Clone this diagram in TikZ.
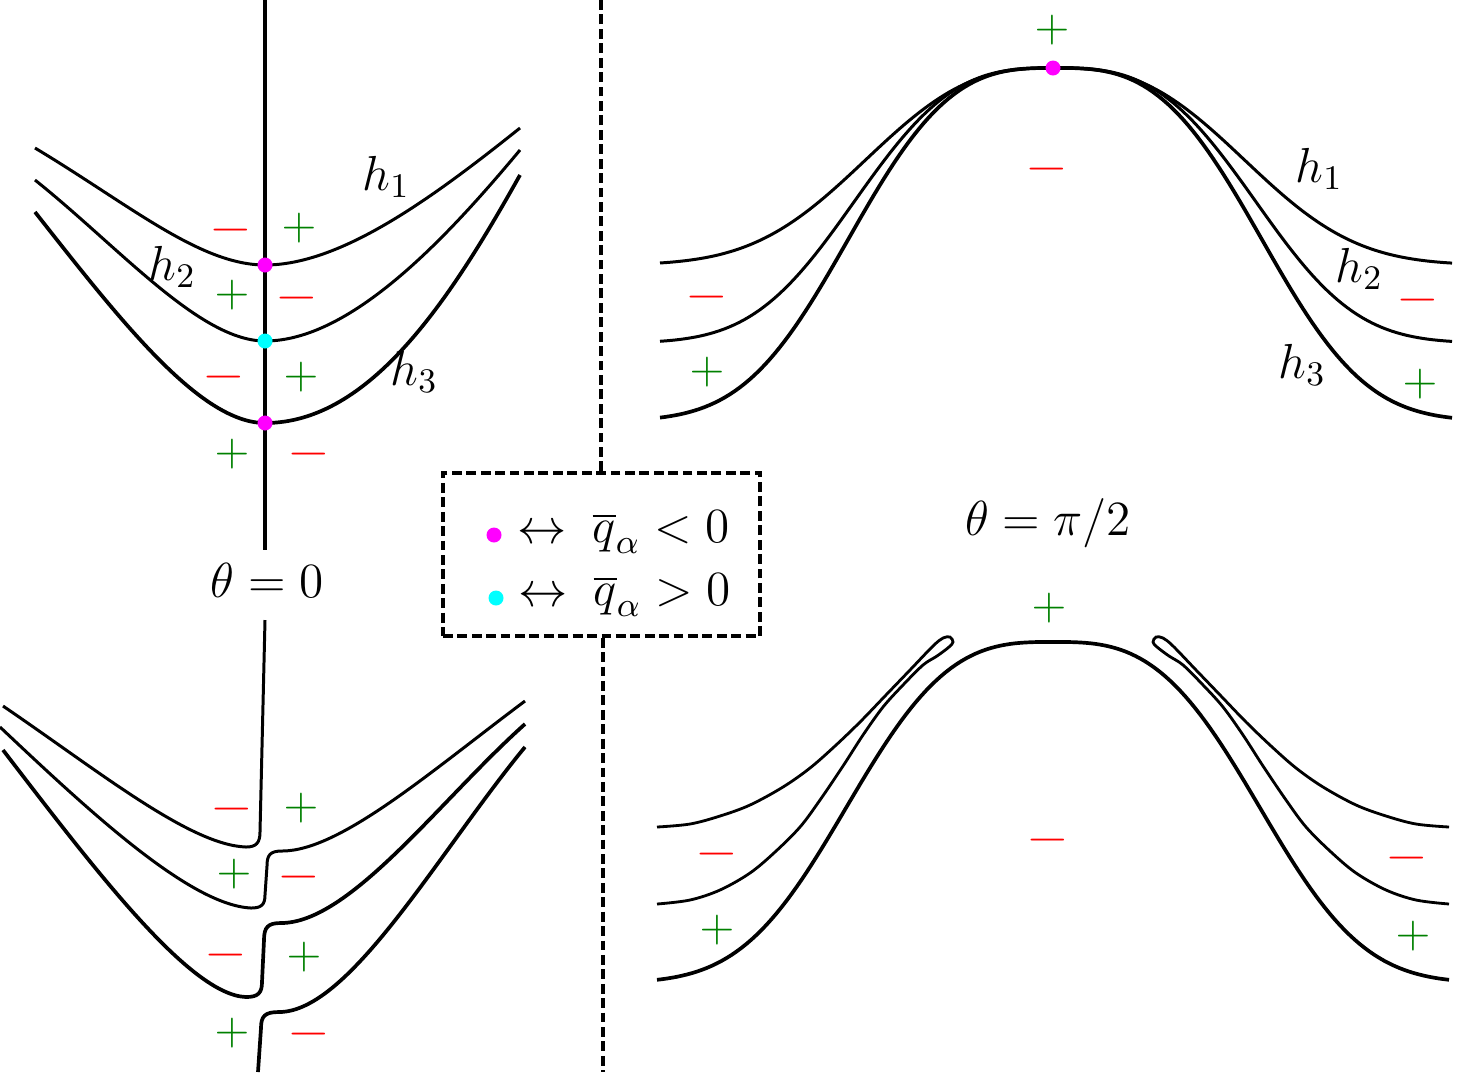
\RequirePackage{fix-cm}
\documentclass[tikz,border=0pt]{standalone}
\usepackage{graphicx}
\definecolor{sgnred}{RGB}{255,0,0}
\definecolor{sgngreen}{RGB}{0,128,0}
\definecolor{dotmag}{RGB}{255,0,255}
\definecolor{dotcyan}{RGB}{0,255,255}
\tikzset{
  thincurve/.style={line width=0.85pt},
  thickcurve/.style={line width=1.05pt},
  possign/.style={text=sgngreen, font=\fontsize{13}{15}\selectfont, inner sep=0pt},
  negsign/.style={text=sgnred, font=\fontsize{13}{15}\selectfont, inner sep=0pt},
  lbl/.style={font=\fontsize{14}{16}\selectfont, inner sep=0pt, anchor=base west},
  ttl/.style={font=\fontsize{14}{16}\selectfont, inner sep=0pt, anchor=base},
  magdot/.style={circle, fill=dotmag, inner sep=0pt, minimum size=1.5mm},
  cyandot/.style={circle, fill=dotcyan, inner sep=0pt, minimum size=1.5mm},
  sepline/.style={line width=0.95pt, dash pattern=on 2.8pt off 1.3pt}
}
\newcommand{\negs}{\scalebox{1.2}[1]{$-$}}
\begin{document}
\begin{tikzpicture}[x=0.01cm,y=-0.01cm,
  declare function={
    fA(\x)=68+197*(1-exp(-pow((abs(\x-1055)+0.01)/225,2.7)));
    fB(\x)=68+275*(1-exp(-pow((abs(\x-1055)+0.01)/230,3)));
    fC(\x)=68+353*(1-exp(-pow((abs(\x-1055)+0.01)/237,3)));
    fD(\x)=642+341*(1-exp(-pow((abs(\x-1053)+0.01)/237,3)));
  }]
\useasboundingbox (0,0) rectangle (1483,1072);

% ---------------- top left (theta = 0) ----------------
\draw[line width=0.9pt] (265,0) -- (265,550);
\draw[thincurve] (35,148) .. controls (130,205) and (200,265) .. (265,265) .. controls (340,265) and (430,200) .. (520,128);
\draw[thincurve] (35,180) .. controls (120,248) and (200,341) .. (265,341) .. controls (350,341) and (445,240) .. (520,150);
\draw[thickcurve] (35,212) .. controls (120,320) and (200,423) .. (265,423) .. controls (370,423) and (450,300) .. (520,175);
\node[magdot] (d1) at (265,265) {};
\node[cyandot] (d2) at (265,341) {};
\node[magdot] (d3) at (265,423) {};
\node[lbl] (tlh1) at (362,190) {$h_1$};
\node[lbl] (tlh2) at (148,280) {$h_2$};
\node[lbl] (tlh3) at (390,385) {$h_3$};
\node[negsign] (tla) at (231,230) {\negs};
\node[possign] (tlb) at (299,228) {$+$};
\node[possign] (tlc) at (232,295) {$+$};
\node[negsign] (tld) at (297,298) {\negs};
\node[negsign] (tle) at (224,377) {\negs};
\node[possign] (tlf) at (301,377) {$+$};
\node[possign] (tlg) at (232,454) {$+$};
\node[negsign] (tlh) at (309,454) {\negs};
\node[ttl] (th0) at (267,597) {$\theta = 0$};

% ---------------- bottom left ----------------
\draw[thincurve] (265,620) -- (260,832) .. controls (260,843) and (256,847) .. (246,847) .. controls (190,845) and (100,772) .. (3,706);
\draw[thincurve] (525,701) .. controls (430,772) and (340,851) .. (282,851) .. controls (270,851) and (267,855) .. (267,866) -- (265,895) .. controls (265,905) and (261,908) .. (251,908) .. controls (190,905) and (90,812) .. (0,727);
\draw[thickcurve] (525,724) .. controls (440,800) and (350,923) .. (281,923) .. controls (268,923) and (264,927) .. (264,940) -- (262,982) .. controls (262,993) and (258,997) .. (246,997) .. controls (190,995) and (95,870) .. (3,750);
\draw[thickcurve] (525,747) .. controls (440,850) and (350,1012) .. (279,1012) .. controls (265,1012) and (261,1016) .. (261,1028) -- (258,1072);
\node[negsign] (bla) at (232,809) {\negs};
\node[possign] (blb) at (301,808) {$+$};
\node[possign] (blc) at (234,874) {$+$};
\node[negsign] (bld) at (299,877) {\negs};
\node[negsign] (ble) at (226,955) {\negs};
\node[possign] (blf) at (304,957) {$+$};
\node[possign] (blg) at (232,1033) {$+$};
\node[negsign] (blh) at (309,1034) {\negs};

% ---------------- separator and legend ----------------
\node[draw, sepline, minimum width=3.17cm, minimum height=1.63cm, inner sep=0pt] (legend) at (601.5,554.5) {};
\coordinate (septop) at (601,0);
\coordinate (sepbot) at (603,1072);
\draw[sepline] (legend.north -| septop) -- (septop);
\draw[sepline] (legend.south -| sepbot) -- (sepbot);
\node[magdot] (ld1) at (494,535) {};
\node[cyandot] (ld2) at (496,598) {};
\node[ttl, anchor=center] (la1) at (542,534) {$\leftrightarrow$};
\node[ttl, anchor=center] (la2) at (543,597) {$\leftrightarrow$};
\node[lbl] (lt1) at (592,542) {$\overline{q}_\alpha < 0$};
\node[lbl] (lt2) at (593,605) {$\overline{q}_\alpha > 0$};

% ---------------- top right (theta = pi/2) ----------------
\draw[thincurve] plot[domain=660:1452, samples=160] (\x,{fA(\x)});
\draw[thincurve] plot[domain=660:1452, samples=160] (\x,{fB(\x)});
\draw[thickcurve] plot[domain=660:1452, samples=160] (\x,{fC(\x)});
\node[magdot] (d4) at (1053,68) {};
\node[possign] (tra) at (1052,30) {$+$};
\node[negsign] (trb) at (1047,169) {\negs};
\node[negsign] (trc) at (707,297) {\negs};
\node[possign] (trd) at (707,372) {$+$};
\node[negsign] (tre) at (1418,300) {\negs};
\node[possign] (trf) at (1420,384) {$+$};
\node[lbl] (trh1) at (1295,182) {$h_1$};
\node[lbl] (trh2) at (1335,282) {$h_2$};
\node[lbl] (trh3) at (1278,378) {$h_3$};
\node[ttl] (thpi) at (1048,535) {$\theta = \pi/2$};

% ---------------- bottom right ----------------
\draw[thickcurve] plot[domain=657:1449, samples=160] (\x,{fD(\x)});
\draw[line width=0.8pt] plot[smooth, tension=0.55] coordinates {(657,827) (690,824) (720,816) (750,805) (783,787) (810,768) (835,746) (860,722) (885,696) (910,670) (933,646) (943,638) (950,637) (953,642) (949,647) (937,656) (923,665) (903,685) (883,707) (863,735) (843,766) (820,800) (800,827) (775,852) (750,873) (720,890) (690,900) (657,904)};
\begin{scope}[shift={(2106,0)}, xscale=-1]
\draw[line width=0.8pt] plot[smooth, tension=0.55] coordinates {(657,827) (690,824) (720,816) (750,805) (783,787) (810,768) (835,746) (860,722) (885,696) (910,670) (933,646) (943,638) (950,637) (953,642) (949,647) (937,656) (923,665) (903,685) (883,707) (863,735) (843,766) (820,800) (800,827) (775,852) (750,873) (720,890) (690,900) (657,904)};
\end{scope}
\node[possign] (bra) at (1049,608) {$+$};
\node[negsign] (brb) at (1048,840) {\negs};
\node[negsign] (brc) at (717,854) {\negs};
\node[possign] (brd) at (717,930) {$+$};
\node[negsign] (bre) at (1407,858) {\negs};
\node[possign] (brf) at (1413,936) {$+$};
\end{tikzpicture}
\end{document}
